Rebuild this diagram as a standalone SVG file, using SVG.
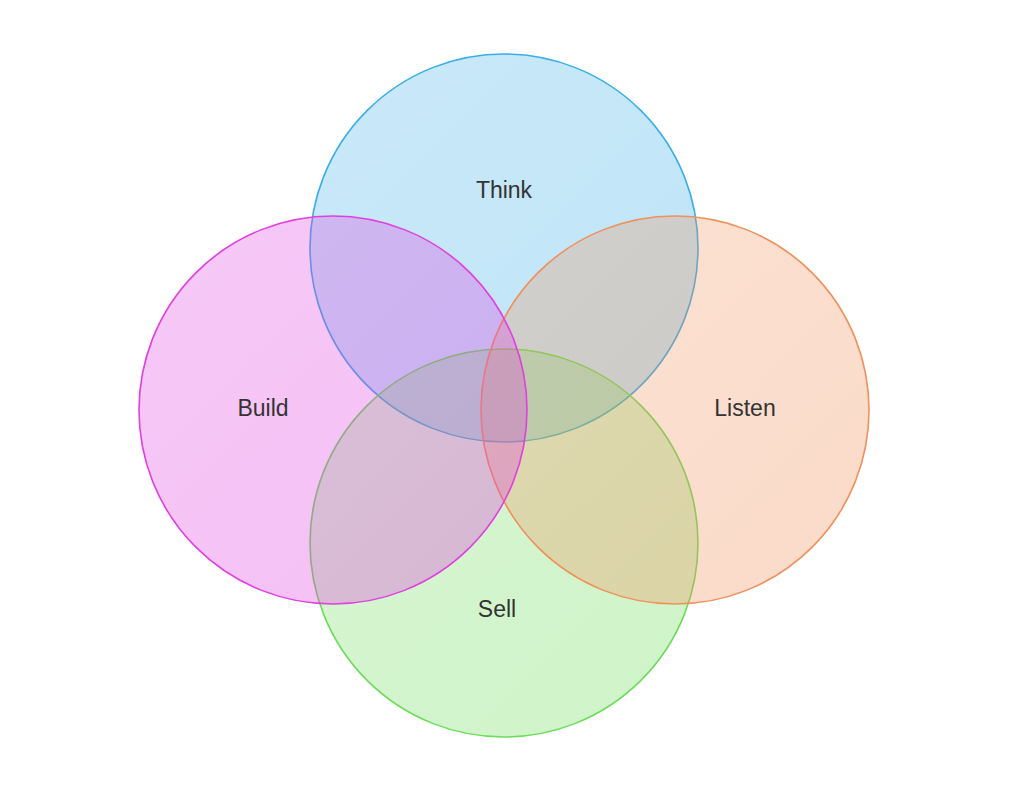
<svg xmlns="http://www.w3.org/2000/svg" width="1024" height="791" viewBox="0 0 1024 791">
  <defs>
    <linearGradient id="gThink" x1="0" y1="0" x2="1" y2="1">
      <stop offset="0" stop-color="#3aaee8" stop-opacity="0.27"/>
      <stop offset="1" stop-color="#3aaee8" stop-opacity="0.33"/>
    </linearGradient>
    <linearGradient id="gSell" x1="0" y1="0" x2="1" y2="1">
      <stop offset="0" stop-color="#6ddc5a" stop-opacity="0.27"/>
      <stop offset="1" stop-color="#6ddc5a" stop-opacity="0.33"/>
    </linearGradient>
    <linearGradient id="gListen" x1="0" y1="0" x2="1" y2="1">
      <stop offset="0" stop-color="#f0905a" stop-opacity="0.27"/>
      <stop offset="1" stop-color="#f0905a" stop-opacity="0.33"/>
    </linearGradient>
    <linearGradient id="gBuild" x1="0" y1="0" x2="1" y2="1">
      <stop offset="0" stop-color="#e040e0" stop-opacity="0.28"/>
      <stop offset="1" stop-color="#e040e0" stop-opacity="0.34"/>
    </linearGradient>
  </defs>
  <style>
    .c { stroke-width: 1.6; }
    .lbl { font-family: "Liberation Sans", Arial, sans-serif; font-size: 23px; fill: #333333; text-anchor: middle; }
  </style>
  <rect width="1024" height="791" fill="#ffffff"/>
  <g id="think">
    <circle class="c" cx="504" cy="248" r="194" fill="url(#gThink)" stroke="#3aaee8"/>
  </g>
  <g id="sell">
    <circle class="c" cx="504" cy="543" r="194" fill="url(#gSell)" stroke="#6ddc5a"/>
  </g>
  <g id="listen">
    <circle class="c" cx="675" cy="410" r="194" fill="url(#gListen)" stroke="#f0905a"/>
  </g>
  <g id="build">
    <circle class="c" cx="333" cy="410" r="194" fill="url(#gBuild)" stroke="#e040e0"/>
  </g>
  <g id="labels">
    <text class="lbl" x="504" y="198">Think</text>
    <text class="lbl" x="263" y="416">Build</text>
    <text class="lbl" x="745" y="416">Listen</text>
    <text class="lbl" x="497" y="617">Sell</text>
  </g>
</svg>
